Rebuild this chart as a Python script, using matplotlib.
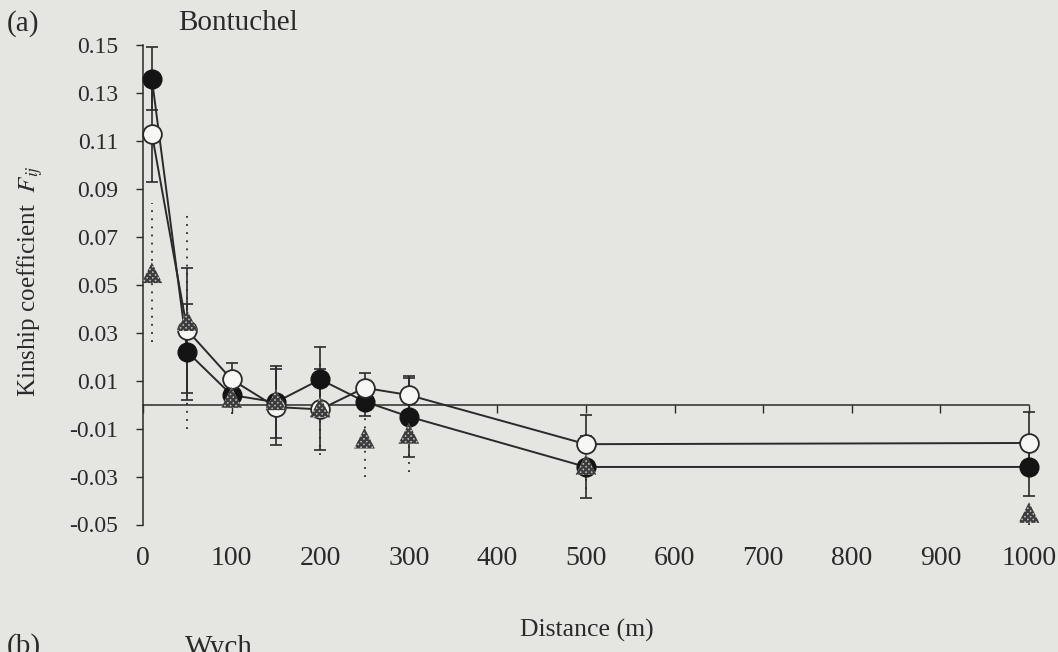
import numpy as np
import matplotlib.pyplot as plt
from matplotlib.ticker import FuncFormatter

plt.rcParams['font.family'] = ['Liberation Serif', 'DejaVu Serif']
plt.rcParams['mathtext.fontset'] = 'stix'
plt.rcParams['hatch.linewidth'] = 1.6

# distance classes (m)
distance = [10, 50, 100, 150, 200, 250, 300, 500, 1000]

# kinship coefficient per class, three groups
f_closed = [0.136, 0.022, 0.004, 0.001, 0.0105, 0.0013, -0.005, -0.026, -0.026]
err_closed = [0.013, 0.020, 0.005, 0.015, 0.0135, 0.006, 0.017, 0.013, 0.012]

f_open = [0.113, 0.031, 0.0105, -0.001, -0.002, 0.007, 0.004, -0.0165, -0.016]
err_open = [0.020, 0.026, 0.007, 0.016, 0.017, 0.006, 0.007, 0.012, 0.013]

f_tri = [0.055, 0.035, 0.003, 0.002, -0.001, -0.014, -0.012, -0.025, -0.045]
err_tri = [0.029, 0.045, 0.007, 0.014, 0.020, 0.016, 0.016, 0.010, 0.005]

x_ticks = [0, 100, 200, 300, 400, 500, 600, 700, 800, 900, 1000]
x_ticklabels = ['0', '100', '200', '300', '400', '500', '600', '700', '800', '900', '1000']
y_ticks = [-0.05, -0.03, -0.01, 0.01, 0.03, 0.05, 0.07, 0.09, 0.11, 0.13, 0.15]

bg = '#e5e5e2'
ink = '#2a2a2a'

W, H = 1058, 652
fig = plt.figure(figsize=(W / 100, H / 100), dpi=100, facecolor=bg)
ax = fig.add_axes([143 / W, 1 - 524.5 / H, (1029 - 143) / W, (524.5 - 45) / H])
ax.set_facecolor('none')
ax.set_xlim(0, 1000)
ax.set_ylim(-0.05, 0.15)

# error bars first so markers sit on top
ax.errorbar(distance, f_closed, yerr=err_closed, fmt='none', ecolor=ink,
            elinewidth=1.2, capsize=4.3, capthick=1.2, zorder=2, clip_on=False)
ax.errorbar(distance, f_open, yerr=err_open, fmt='none', ecolor=ink,
            elinewidth=1.2, capsize=4.3, capthick=1.2, zorder=2, clip_on=False)
eb_t = ax.errorbar(distance, f_tri, yerr=err_tri, fmt='none', ecolor=ink,
                   elinewidth=1.3, capsize=0, zorder=2, clip_on=False)
eb_t.lines[2][0].set_linestyle((0, (1, 3.5)))

ax.plot(distance, f_closed, color=ink, lw=1.4, zorder=3,
        marker='o', ms=13.5, mfc='#141414', mec='#141414', clip_on=False)
ax.plot(distance, f_open, color=ink, lw=1.4, zorder=4,
        marker='o', ms=13.5, mfc='#f7f7f5', mec=ink, mew=1.3, clip_on=False)
ax.scatter(distance, f_tri, marker='^', s=220, facecolor='#bdbdbd', edgecolor='#3c3c3c',
           hatch='xxxxxx', linewidths=0, zorder=5, clip_on=False)

# axes: left spine with outward ticks, horizontal axis drawn at zero
for side in ['top', 'right']:
    ax.spines[side].set_visible(False)
ax.spines['left'].set_color(ink)
ax.spines['left'].set_linewidth(1.1)
ax.spines['bottom'].set_position(('data', 0))
ax.spines['bottom'].set_color(ink)
ax.spines['bottom'].set_linewidth(1.1)

ax.set_yticks(y_ticks)
ax.yaxis.set_major_formatter(FuncFormatter(lambda v, p: f'{v:.2f}'))
ax.tick_params(axis='y', direction='out', length=5, width=1, color=ink,
               labelsize=17, labelcolor=ink, pad=13)
ax.set_xticks(x_ticks)
ax.tick_params(axis='x', direction='out', length=6, width=1, color=ink,
               labelbottom=False)

# distance labels sit below the plotting area, away from the zero line
xt = ax.get_xaxis_transform()
for xv, lab in zip(x_ticks, x_ticklabels):
    ax.text(xv, -0.045, lab, transform=xt, fontsize=20, color=ink,
            ha='center', va='top', clip_on=False)

fig.text(7 / W, 1 - 10 / H, '(a)', fontsize=21, color=ink, va='top', ha='left')
fig.text(178 / W, 1 - 10 / H, 'Bontuchel', fontsize=21, color=ink, va='top', ha='left')
fig.text(30 / W, 1 - 281 / H, r'Kinship coefficient  $\mathit{F_{ij}}$', fontsize=18,
         color=ink, rotation=90, va='center', ha='center')
fig.text(587 / W, 1 - 630 / H, 'Distance (m)', fontsize=18.5, color=ink,
         va='center', ha='center')
fig.text(7 / W, 1 - 633 / H, '(b)', fontsize=21, color=ink, va='top', ha='left')
fig.text(185 / W, 1 - 635 / H, 'Wych', fontsize=21, color=ink, va='top', ha='left')

fig.savefig('out.png', dpi=100, facecolor=bg)
